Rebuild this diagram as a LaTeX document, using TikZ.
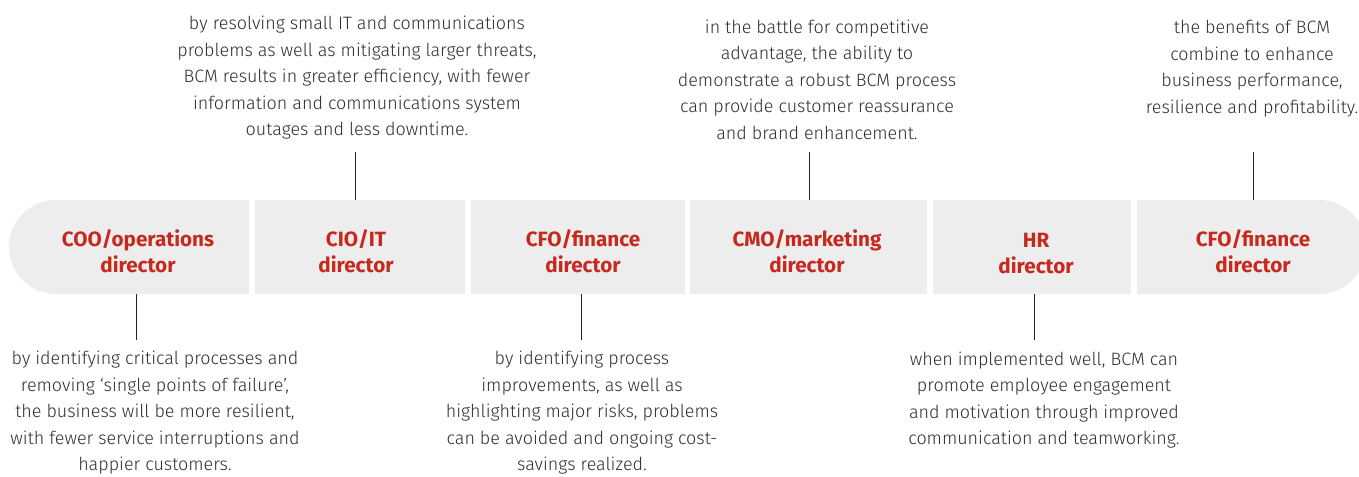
\documentclass[tikz,border=0pt]{standalone}
\usepackage{fontspec}
\setmainfont{Fira Sans}
\newfontfamily\bodyfont{Fira Sans Light}
\usetikzlibrary{shapes.misc}
\definecolor{bandgrey}{HTML}{EDEDED}
\definecolor{headred}{HTML}{C62A1F}
\definecolor{bodytext}{HTML}{2E2E2E}
\definecolor{linegrey}{HTML}{222222}
\tikzset{
  band/.style={rectangle, fill=bandgrey, draw=none, inner sep=0pt, minimum height=70.5pt},
  bandleft/.style={rounded rectangle, rounded rectangle east arc=none, fill=bandgrey, draw=none, inner sep=0pt, minimum height=70.5pt},
  bandright/.style={rounded rectangle, rounded rectangle west arc=none, fill=bandgrey, draw=none, inner sep=0pt, minimum height=70.5pt},
  head/.style={text=headred, align=center, inner sep=0pt, font=\fontsize{15.5}{19.5}\selectfont\bfseries},
  body/.style={text=bodytext, align=center, inner sep=0pt, font=\bodyfont\fontsize{13.45}{19.875}\selectfont},
  conn/.style={draw=linegrey, line width=0.75pt}
}
\begin{document}
\begin{tikzpicture}[x=0.75pt, y=-0.75pt]
\useasboundingbox (0,0) rectangle (1359,476);
% band boxes
\node[bandleft, minimum width=180pt] (b1) at (129,247) {};
\node[band, minimum width=157.5pt] (b2) at (360,247) {};
\node[band, minimum width=160.5pt] (b3) at (578,247) {};
\node[band, minimum width=177.75pt] (b4) at (808.5,247) {};
\node[band, minimum width=148.5pt] (b5) at (1032,247) {};
\node[bandright, minimum width=171.75pt] (b6) at (1251.5,247) {};
% labels
\node[head] (l1) at (138,251) {COO/operations\\director};
\node[head] (l2) at (356,251) {CIO/IT\\director};
\node[head] (l3) at (583,251) {CFO/finance\\director};
\node[head] (l4) at (807,251) {CMO/marketing\\director};
\node[head] (l5) at (1036,253.5) {HR\\director};
\node[head] (l6) at (1253,251) {CFO/finance\\director};
% texts
\node[body] (t1) at (155,413) {by identifying critical processes and\\removing ‘single points of failure’,\\the business will be more resilient,\\with fewer service interruptions and\\happier customers.};
\node[body] (t2) at (357,78) {by resolving small IT and communications\\problems as well as mitigating larger threats,\\BCM results in greater efficiency, with fewer\\information and communications system\\outages and less downtime.};
\node[body] (t3) at (582,413) {by identifying process\\improvements, as well as\\highlighting major risks, problems\\can be avoided and ongoing cost-\\savings realized.};
\node[body] (t4) at (817,79.5) {in the battle for competitive\\advantage, the ability to\\demonstrate a robust BCM process\\can provide customer reassurance\\and brand enhancement.};
\node[body] (t5) at (1044,400) {when implemented well, BCM can\\promote employee engagement\\and motivation through improved\\communication and teamworking.};
\node[body] (t6) at (1252,68.5) {the benefits of BCM\\combine to enhance\\business performance,\\resilience and profitability.};
% connector ends
\coordinate (c1) at (136,340);
\coordinate (c2) at (355,152);
\coordinate (c3) at (581,340);
\coordinate (c4) at (809,152);
\coordinate (c5) at (1034,340);
\coordinate (c6) at (1253,152);
\draw[conn] (b1.south -| c1) -- (c1);
\draw[conn] (b2.north -| c2) -- (c2);
\draw[conn] (b3.south -| c3) -- (c3);
\draw[conn] (b4.north -| c4) -- (c4);
\draw[conn] (b5.south -| c5) -- (c5);
\draw[conn] (b6.north -| c6) -- (c6);
\end{tikzpicture}
\end{document}
